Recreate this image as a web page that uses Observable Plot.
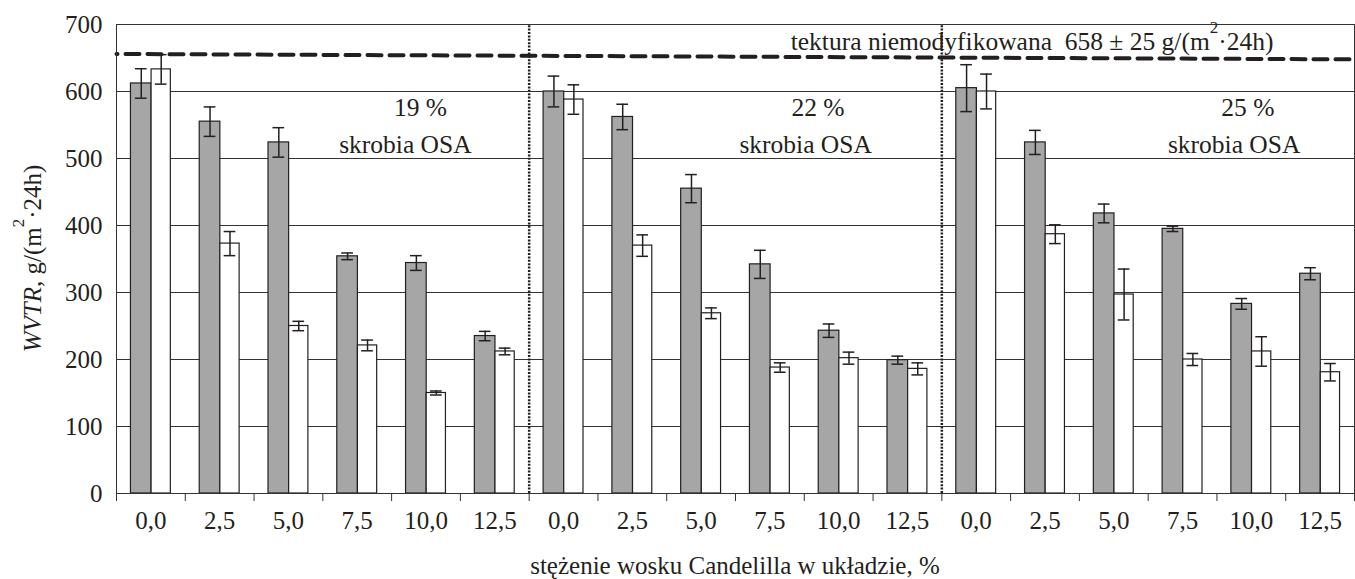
<!DOCTYPE html>
<html><head><meta charset="utf-8">
<script src="https://cdn.jsdelivr.net/npm/d3@7"></script>
<script src="https://cdn.jsdelivr.net/npm/@observablehq/plot@0.6"></script>
<style>body{margin:0;background:#fff}</style>
</head><body><div id="chart"></div>
<script>
// ---- data ----
const sections = ["19 %", "22 %", "25 %"];
const sectionSubLabel = "skrobia OSA";
const concentrations = ["0,0", "2,5", "5,0", "7,5", "10,0", "12,5"];

const gray19 = [612, 555, 524, 354, 344, 235];
const white19 = [633, 373, 250, 221, 150, 212];
const grayErr19 = [22, 22, 22, 5, 11, 7];
const whiteErr19 = [22, 18, 7, 8, 3, 5];

const gray22 = [600, 562, 455, 342, 243, 199];
const white22 = [588, 370, 269, 188, 202, 186];
const grayErr22 = [23, 19, 21, 21, 10, 6];
const whiteErr22 = [22, 16, 8, 7, 9, 9];

const gray25 = [605, 524, 418, 395, 283, 328];
const white25 = [600, 387, 297, 200, 212, 181];
const grayErr25 = [35, 18, 14, 4, 8, 9];
const whiteErr25 = [26, 14, 38, 9, 22, 13];

const referenceValue = 658, referenceSd = 25;
const referenceLineDrawn = [656, 648]; // dashed line as drawn (left end, right end)
const yTicks = [0, 100, 200, 300, 400, 500, 600, 700];

// ---- build table ----
const grays = [gray19, gray22, gray25], whites = [white19, white22, white25];
const grayErrs = [grayErr19, grayErr22, grayErr25], whiteErrs = [whiteErr19, whiteErr22, whiteErr25];
const nC = concentrations.length, nSlots = sections.length * nC;
const rows = [];
sections.forEach((s, si) => concentrations.forEach((c, ci) => {
  const slot = si * nC + ci;
  rows.push({slot, series: "gray", value: grays[si][ci], err: grayErrs[si][ci]});
  rows.push({slot, series: "white", value: whites[si][ci], err: whiteErrs[si][ci]});
}));
const span = {gray: [0.21, 0.51], white: [0.51, 0.79]};
const ctr = d => d.slot + (span[d.series][0] + span[d.series][1]) / 2;
const capHalf = 0.085;
const ink = "#231f20", lineC = "#333";
const font = "Liberation Serif";
const fs = 25, fsNote = 25.5;

const boundaries = d3.range(nSlots + 1);
const centers = d3.range(nSlots).map(i => i + 0.5);
const sectionBreaks = d3.range(1, sections.length).map(i => i * nC);
const sectionRows = sections.map((s, i) => ({s, i}));
const labelOff = [[4.42, 4.2], [4.2, 4.02], [4.45, 4.25]];

const plot = Plot.plot({
  width: 1355, height: 579,
  marginTop: 24, marginBottom: 86, marginLeft: 116, marginRight: 1,
  style: {fontFamily: font, fontSize: fs + "px", color: ink, background: "#fff"},
  x: {type: "linear", domain: [0, nSlots]},
  y: {domain: [0, 700]},
  marks: [
    Plot.gridY(yTicks.slice(1, -1), {stroke: lineC, strokeOpacity: 1, strokeWidth: 1}),
    Plot.rect(rows.filter(d => d.series === "gray"), {x1: d => d.slot + span.gray[0], x2: d => d.slot + span.gray[1], y1: 0, y2: "value", fill: "#a6a6a6", stroke: ink, strokeWidth: 1.2}),
    Plot.rect(rows.filter(d => d.series === "white"), {x1: d => d.slot + span.white[0], x2: d => d.slot + span.white[1], y1: 0, y2: "value", fill: "#fff", stroke: ink, strokeWidth: 1.2}),
    Plot.ruleX(rows, {x: ctr, y1: d => d.value - d.err, y2: d => d.value + d.err, stroke: ink, strokeWidth: 1.5}),
    Plot.ruleY(rows, {y: d => d.value + d.err, x1: d => ctr(d) - capHalf, x2: d => ctr(d) + capHalf, stroke: ink, strokeWidth: 1.5}),
    Plot.ruleY(rows, {y: d => d.value - d.err, x1: d => ctr(d) - capHalf, x2: d => ctr(d) + capHalf, stroke: ink, strokeWidth: 1.5}),
    Plot.line([{x: 0, y: referenceLineDrawn[0]}, {x: nSlots, y: referenceLineDrawn[1]}], {x: "x", y: "y", stroke: ink, strokeWidth: 4, strokeDasharray: "14,8", strokeDashoffset: 13}),
    Plot.ruleX(sectionBreaks, {y1: 0, y2: 700, stroke: ink, strokeWidth: 2.5, strokeDasharray: "2,1.4"}),
    Plot.frame({stroke: lineC, strokeWidth: 1}),
    Plot.axisY({ticks: yTicks, tickSize: 0, tickPadding: 14, fontSize: fs, label: null}),
    Plot.axisX({ticks: boundaries, tickSize: 8, tickFormat: () => "", stroke: lineC, label: null}),
    Plot.axisX({ticks: centers, tickSize: 0, tickPadding: 18, fontSize: fs, label: null, tickFormat: d => concentrations[Math.floor(d) % nC]}),
    Plot.text(sectionRows, {x: d => d.i * nC + labelOff[d.i][0], y: 564, text: "s", lineAnchor: "bottom", fontSize: fsNote, fill: ink}),
    Plot.text(sectionRows, {x: d => d.i * nC + labelOff[d.i][1], y: 507.5, text: () => sectionSubLabel, lineAnchor: "bottom", fontSize: fsNote, fill: ink})
  ]
});
document.getElementById("chart").appendChild(plot);

// ---- rich-text labels (italic / superscripts) ----
const sx = plot.scale("x"), sy = plot.scale("y");
const svg = d3.select(plot);

// reference annotation
const ref = svg.append("text")
  .attr("x", sx.apply(9.81)).attr("y", sy.apply(661))
  .attr("text-anchor", "start")
  .attr("font-size", fsNote).attr("fill", ink)
  .style("white-space", "pre");
ref.append("tspan").text(`tektura niemodyfikowana  ${referenceValue} ± ${referenceSd} g/(m`);
ref.append("tspan").attr("font-size", 17).attr("dy", -17).text("2");
ref.append("tspan").attr("dy", 17).text("·24h)");

// y axis title
const yt = svg.append("text")
  .attr("transform", `translate(41, ${(sy.apply(0) + sy.apply(700)) / 2}) rotate(-90)`)
  .attr("text-anchor", "middle")
  .attr("font-size", fs).attr("fill", ink);
yt.append("tspan").attr("font-style", "italic").text("WVTR");
yt.append("tspan").text(", g/(m");
yt.append("tspan").attr("font-size", 17).attr("dy", -17).text("2");
yt.append("tspan").attr("dy", 17).text("·24h)");

// x axis title
svg.append("text")
  .attr("x", (sx.apply(0) + sx.apply(nSlots)) / 2).attr("y", 574)
  .attr("text-anchor", "middle")
  .attr("font-size", fs).attr("fill", ink)
  .text("stężenie wosku Candelilla w układzie, %");

svg.selectAll("text").attr("font-family", font);
</script>
</body></html>
